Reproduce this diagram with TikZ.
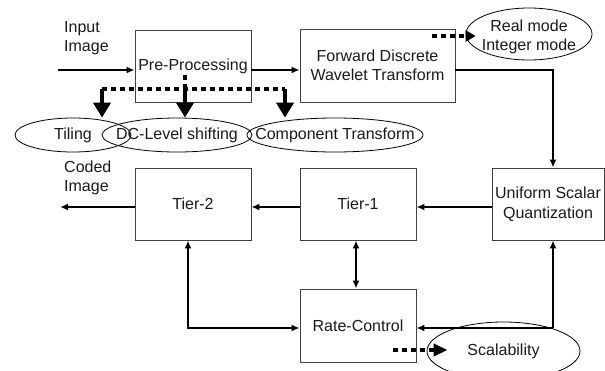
\documentclass[tikz,border=0pt]{standalone}
\usepackage{fontspec}
\setmainfont{Liberation Sans}
\usetikzlibrary{arrows.meta,shapes.geometric,calc}
\definecolor{txt}{HTML}{1A1A1A}
\definecolor{boxc}{HTML}{404040}
\begin{document}
\begin{tikzpicture}[x=1pt,y=-1pt,
  every node/.style={font=\fontsize{16}{19.5}\selectfont, text=txt},
  blk/.style={draw=boxc, line width=0.9pt, inner sep=0pt, align=center,
    minimum width=116pt, minimum height=72pt},
  oval/.style={ellipse, draw=black, line width=0.8pt, inner sep=0pt},
  lbl/.style={align=center, inner sep=0pt},
  flow/.style={line width=2pt, -{Latex[length=8pt,width=7pt]}},
  twoway/.style={line width=2pt, {Latex[length=8pt,width=7pt]}-{Latex[length=8pt,width=7pt]}},
  dots/.style={line width=4.5pt, dash pattern=on 4.5pt off 4.5pt},
  drop/.style={line width=4pt, -{Triangle[length=15pt,width=17pt]}}]
\useasboundingbox (0,0) rectangle (605,370);
\clip (0,0) rectangle (605,370);

% processing blocks
\node[blk] (pre) at (193,66.5) {Pre-Processing};
\node[blk, minimum width=155pt, minimum height=73pt] (fdwt) at (377.5,65.5)
  {Forward Discrete\\Wavelet Transform};
\node[blk, minimum width=112pt] (usq) at (548,204) {Uniform Scalar\\Quantization};
\node[blk] (tier1) at (358,204) {Tier-1};
\node[blk] (tier2) at (193,204) {Tier-2};
\node[blk, minimum height=73pt] (rate) at (358,325.5) {Rate-Control};

% option ovals
\node[oval, minimum width=116pt, minimum height=34pt,
  label={[lbl]center:Tiling}] (tiling) at (73,135) {};
\node[oval, minimum width=150pt, minimum height=34pt,
  label={[lbl]center:DC-Level shifting}] (dcl) at (177,135) {};
\node[oval, minimum width=176pt, minimum height=34pt,
  label={[lbl]center:Component Transform}] (comp) at (335,135) {};
\node[oval, minimum width=126pt, minimum height=52pt,
  label={[lbl, yshift=-3pt]center:Real mode\\Integer mode}] (realm) at (529,34) {};
\node[oval, minimum width=153pt, minimum height=58pt,
  label={[lbl]center:Scalability}] (scal) at (503.5,351) {};

% outside labels
\node[anchor=west, align=left, inner sep=0pt] (inp) at (64,38) {Input\\Image};
\node[anchor=west, align=left, inner sep=0pt] (cod) at (64,178) {Coded\\Image};

% helper points
\coordinate (inl) at (58,70);
\coordinate (outl) at (60,207);
\coordinate (qx) at (553,70);
\coordinate (j) at (553,328);
\coordinate (t2x) at (188,328);
\coordinate (dtop) at (185,75);
\coordinate (dl) at (102,89);
\coordinate (dr) at (285,89);
\coordinate (rms) at (432,36);
\coordinate (sds) at (393,350);

% main data path
\draw[flow] (inl) -- (inl -| pre.west);
\draw[flow] (pre.east |- inl) -- (fdwt.west |- inl);
\draw[flow] (fdwt.east |- inl) -- (qx) -- (qx |- usq.north);
\draw[flow] (usq.west |- outl) -- (tier1.east |- outl);
\draw[flow] (tier1.west |- outl) -- (tier2.east |- outl);
\draw[flow] (tier2.west |- outl) -- (outl);

% rate control loop
\draw[twoway] ($(tier1.south)+(-2,0)$) -- ($(rate.north)+(-2,0)$);
\draw[twoway] (tier2.south -| t2x) -- (t2x) -- (rate.west |- t2x);
\draw[flow] (j) -- (rate.east |- j);
\draw[flow] (j) -- (usq.south -| j);

% dotted option links
\draw[dots] (dl) -- (dr);
\draw[dots] (dtop) -- (dtop |- dl);
\draw[drop] (dl) -- (dl |- tiling.north);
\draw[drop] (dtop |- dl) -- (dtop |- dcl.north);
\draw[drop] (dr) -- (dr |- comp.north);
\draw[dots, -{Triangle[length=10pt,width=11pt]}] (rms) -- ($(realm.west |- rms)+(10,0)$);
\draw[dots, -{Triangle[length=14pt,width=12pt]}] (sds) -- ($(scal.west |- sds)+(21,0)$);
\end{tikzpicture}
\end{document}
